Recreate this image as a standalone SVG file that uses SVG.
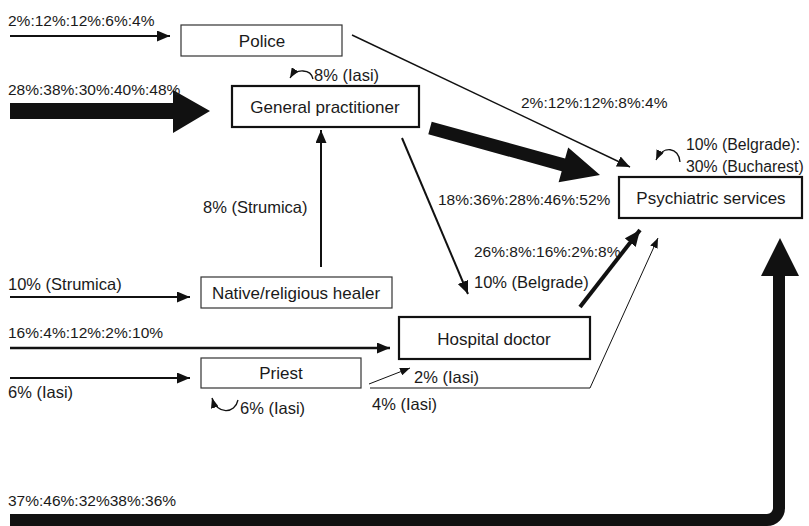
<svg xmlns="http://www.w3.org/2000/svg" width="809" height="526" viewBox="0 0 809 526">
<defs>
<style>
text{font-family:"Liberation Sans",Arial,sans-serif;font-size:15.5px;fill:#1a1a1a}
.c{text-anchor:middle;font-size:17px}
.p{font-size:16.5px}
.q{font-size:15.8px}
.box{fill:#fff;stroke:#333;stroke-width:1.2}
.boxb{fill:#fff;stroke:#111;stroke-width:2.2}
.ln{fill:none;stroke:#111}
.big{fill:#111;stroke:none}
</style>
<marker id="aM" markerUnits="userSpaceOnUse" markerWidth="13" markerHeight="11" refX="13" refY="5.5" orient="auto"><path d="M0,0 L13,5.5 L0,11 z" fill="#111"/></marker>
<marker id="aS" markerUnits="userSpaceOnUse" markerWidth="10" markerHeight="8" refX="10" refY="4" orient="auto"><path d="M0,0 L10,4 L0,8 z" fill="#111"/></marker>
<marker id="aL" markerUnits="userSpaceOnUse" markerWidth="16" markerHeight="14" refX="16" refY="7" orient="auto"><path d="M0,0 L16,7 L0,14 z" fill="#111"/></marker>
</defs>
<rect width="809" height="526" fill="#fff"/>
<g id="connectors">
<line class="ln" x1="10" y1="36" x2="170" y2="36" stroke-width="2" marker-end="url(#aM)"/>
<polygon class="big" points="10,103 173,103 173,90 210,111 173,133 173,119 10,119"/>
<line class="ln" x1="352" y1="35" x2="630" y2="167" stroke-width="1.4" marker-end="url(#aM)"/>
<polygon class="big" points="431.7,121.7 565.1,158.6 568.2,147.5 600,175 558.6,182.3 561.7,171.2 428.3,134.3"/>
<line class="ln" x1="402" y1="138" x2="468" y2="294" stroke-width="2" marker-end="url(#aM)"/>
<line class="ln" x1="321" y1="267" x2="321" y2="130" stroke-width="2" marker-end="url(#aM)"/>
<line class="ln" x1="10" y1="297" x2="190" y2="297" stroke-width="2" marker-end="url(#aM)"/>
<line class="ln" x1="10" y1="348" x2="390" y2="348" stroke-width="2.6" marker-end="url(#aM)"/>
<line class="ln" x1="10" y1="378" x2="190" y2="378" stroke-width="2" marker-end="url(#aM)"/>
<line class="ln" x1="580" y1="307" x2="640" y2="230" stroke-width="4" marker-end="url(#aL)"/>
<line class="ln" x1="369" y1="384" x2="410" y2="368" stroke-width="1" marker-end="url(#aS)"/>
<polyline class="ln" points="370,388 590,388 658,238" stroke-width="1" marker-end="url(#aS)"/>
<path class="ln" d="M313,79 C311,69 296,68 290,78" stroke-width="1.3" marker-end="url(#aS)"/>
<path class="ln" d="M680,162 C679,147 663,145 656,160" stroke-width="1.3" marker-end="url(#aS)"/>
<path class="ln" d="M238,400 C235,414 217,415 212,398" stroke-width="1.3" marker-end="url(#aS)"/>
<path class="ln" d="M10,520 H767 A12,12 0 0 0 779,508 V272" stroke-width="12"/>
<polygon class="big" points="761,276 780,238 799,276"/>
</g>
<g id="police"><rect class="box" x="181" y="25" width="161" height="31"/><text class="c" x="262" y="47">Police</text></g>
<g id="gp"><rect class="boxb" x="232" y="86" width="187" height="41"/><text class="c" x="325" y="113">General practitioner</text></g>
<g id="psych"><rect class="boxb" x="619" y="177" width="183" height="41"/><text class="c" x="711" y="204">Psychiatric services</text></g>
<g id="healer"><rect class="box" x="201" y="277" width="191" height="31"/><text class="c" x="296" y="299">Native/religious healer</text></g>
<g id="hospital"><rect class="boxb" x="399" y="317" width="191" height="42"/><text class="c" x="494" y="345">Hospital doctor</text></g>
<g id="priest"><rect class="box" x="201" y="358" width="160" height="30"/><text class="c" x="281" y="379">Priest</text></g>
<g id="labels">
<text x="8" y="26">2%:12%:12%:6%:4%</text>
<text x="8" y="95">28%:38%:30%:40%:48%</text>
<text class="p" x="314" y="81">8% (Iasi)</text>
<text x="521" y="108">2%:12%:12%:8%:4%</text>
<text class="q" x="686" y="150">10% (Belgrade):</text>
<text class="q" x="686" y="172">30% (Bucharest)</text>
<text x="438" y="205">18%:36%:28%:46%:52%</text>
<text class="p" x="203" y="213">8% (Strumica)</text>
<text x="474" y="257">26%:8%:16%:2%:8%</text>
<text class="p" x="8" y="290">10% (Strumica)</text>
<text class="p" x="474" y="288">10% (Belgrade)</text>
<text x="8" y="338">16%:4%:12%:2%:10%</text>
<text class="p" x="414" y="383">2% (Iasi)</text>
<text class="p" x="8" y="398">6% (Iasi)</text>
<text class="p" x="240" y="414">6% (Iasi)</text>
<text class="p" x="372" y="410">4% (Iasi)</text>
<text x="8" y="506">37%:46%:32%38%:36%</text>
</g>
</svg>
